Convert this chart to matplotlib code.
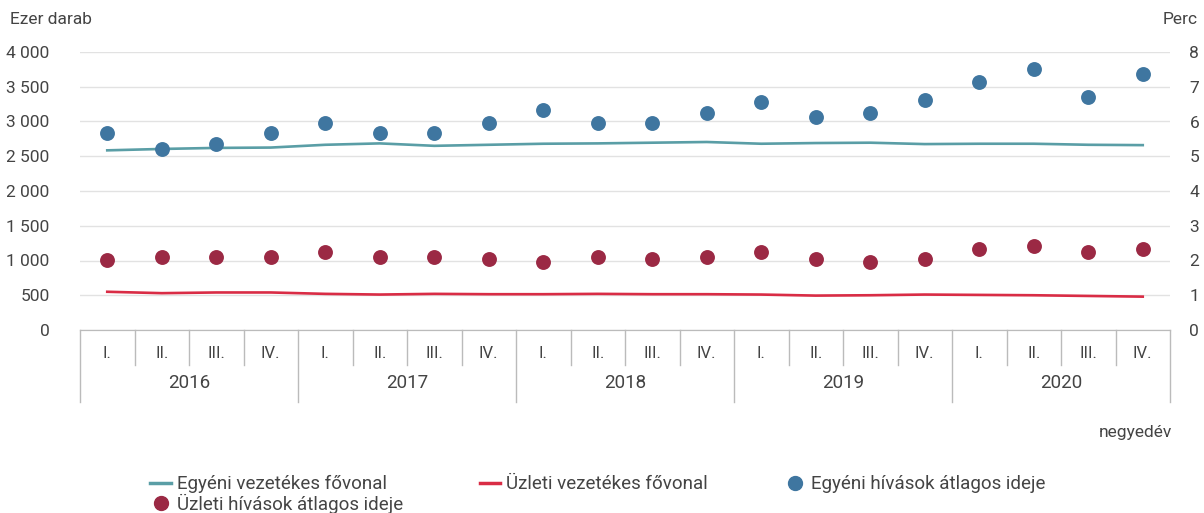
import numpy as np
import matplotlib.pyplot as plt
from matplotlib.lines import Line2D
import matplotlib.transforms as mtransforms

plt.rcParams.update({"font.family": ["Roboto", "DejaVu Sans"], "font.size": 12.5})

years = ["2016", "2017", "2018", "2019", "2020"]
quarters = ["I.", "II.", "III.", "IV."]

# ezer darab
egyeni_fovonal = [2585, 2605, 2620, 2625, 2665, 2685, 2650, 2665, 2680, 2685, 2695, 2705,
                  2680, 2690, 2695, 2675, 2680, 2680, 2665, 2660]
uzleti_fovonal = [550, 530, 540, 540, 520, 510, 520, 515, 515, 520, 515, 515,
                  510, 495, 500, 510, 505, 500, 490, 480]
# perc
egyeni_ido = [5.66, 5.2, 5.35, 5.66, 5.95, 5.66, 5.66, 5.95, 6.33, 5.95, 5.95, 6.24,
              6.55, 6.13, 6.24, 6.62, 7.14, 7.51, 6.7, 7.36]
uzleti_ido = [2.02, 2.1, 2.1, 2.1, 2.24, 2.1, 2.1, 2.03, 1.95, 2.1, 2.03, 2.1,
              2.24, 2.03, 1.95, 2.03, 2.33, 2.42, 2.24, 2.33]

c_teal = "#5a9ea6"
c_red = "#d92c45"
c_blue = "#3f76a0"
c_maroon = "#9b2944"
txt = "#444444"
W, H = 1204, 513

fig = plt.figure(figsize=(W / 100, H / 100), dpi=100)
ax = fig.add_axes([80 / W, 1 - 330 / H, 1090 / W, 278 / H])
ax2 = ax.twinx()

x = np.arange(len(egyeni_fovonal))
ax.plot(x, egyeni_fovonal, color=c_teal, lw=1.9, zorder=3)
ax.plot(x, uzleti_fovonal, color=c_red, lw=1.9, zorder=3)
ax2.scatter(x, egyeni_ido, s=115, color=c_blue, zorder=4, linewidths=0)
ax2.scatter(x, uzleti_ido, s=115, color=c_maroon, zorder=4, linewidths=0)

ax.set_xlim(-0.5, len(x) - 0.5)
ax.set_ylim(0, 4000)
ax2.set_ylim(0, 8)
ax.set_yticks(np.arange(0, 4001, 500))
ax.set_yticklabels([f"{v:,}".replace(",", " ") for v in range(0, 4001, 500)])
ax2.set_yticks(np.arange(0, 9, 1))
ax.grid(axis="y", color="#e2e2e2", lw=1)
ax.set_axisbelow(True)
ax.set_xticks([])
for a in (ax, ax2):
    for s in ("top", "left", "right"):
        a.spines[s].set_visible(False)
    a.spines["bottom"].set_color("#bbbbbb")
    a.tick_params(axis="y", length=0, colors=txt)
ax.tick_params(axis="y", pad=22)
ax2.tick_params(axis="y", pad=14)

# two-level category axis
tr = mtransforms.blended_transform_factory(ax.transData, ax.transAxes)
q_bot = -35 / 278
y_bot = -72 / 278
for k in range(len(x) + 1):
    yb = y_bot if k % 4 == 0 else q_bot
    ax.plot([k - 0.5, k - 0.5], [0, yb], color="#bbbbbb", lw=1, transform=tr, clip_on=False)
for i in x:
    ax.text(i, -23 / 278, quarters[i % 4], transform=tr, ha="center", va="center",
            color=txt, fontsize=12)
for j, yr in enumerate(years):
    ax.text(4 * j + 1.5, -53 / 278, yr, transform=tr, ha="center", va="center",
            color=txt, fontsize=13.5)

fig.text(10 / W, 1 - 20 / H, "Ezer darab", ha="left", va="center", color=txt, fontsize=12.5)
fig.text(1163 / W, 1 - 20 / H, "Perc", ha="left", va="center", color=txt, fontsize=12.5)
fig.text(1172 / W, 1 - 433 / H, "negyedév", ha="right", va="center", color=txt, fontsize=12.5)

handles = [
    Line2D([], [], color=c_teal, lw=2.5, label="Egyéni vezetékes fővonal"),
    Line2D([], [], color=c_maroon, marker="o", ls="none", ms=10, label="Üzleti hívások átlagos ideje"),
    Line2D([], [], color=c_red, lw=2.5, label="Üzleti vezetékes fővonal"),
    Line2D([], [], color=c_blue, marker="o", ls="none", ms=10, label="Egyéni hívások átlagos ideje"),
]
leg = fig.legend(handles=handles, ncol=3, loc="upper left", bbox_to_anchor=(141 / W, 1 - 466 / H),
                 frameon=False, fontsize=13.5, handlelength=1.1, handletextpad=0.3,
                 columnspacing=4.1, labelspacing=0.0, borderpad=0)
for t in leg.get_texts():
    t.set_color(txt)

fig.savefig("out.png", dpi=100)
